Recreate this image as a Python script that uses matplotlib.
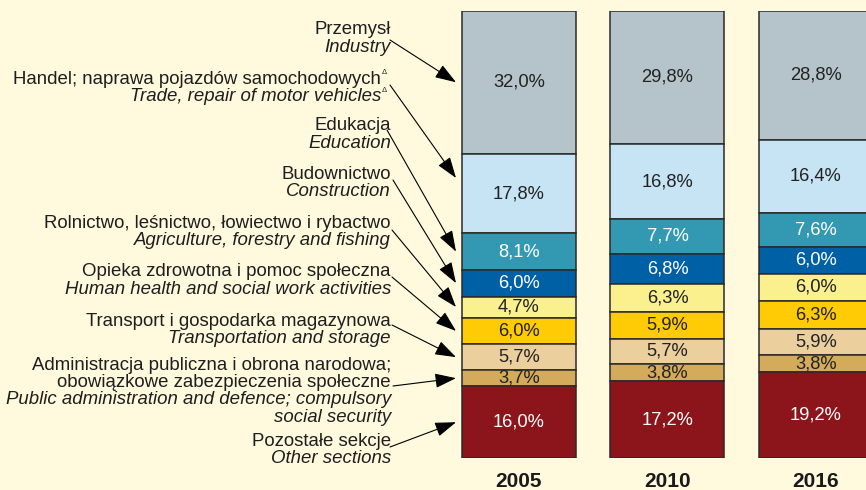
import numpy as np
import matplotlib
matplotlib.use("Agg")
import matplotlib.pyplot as plt

plt.rcParams["font.family"] = ["Liberation Sans", "DejaVu Sans"]

years = ["2005", "2010", "2016"]
sectors_pl = ["Przemysł", "Handel; naprawa pojazdów samochodowych", "Edukacja", "Budownictwo",
              "Rolnictwo, leśnictwo, łowiectwo i rybactwo", "Opieka zdrowotna i pomoc społeczna",
              "Transport i gospodarka magazynowa",
              "Administracja publiczna i obrona narodowa;\nobowiązkowe zabezpieczenia społeczne",
              "Pozostałe sekcje"]
sectors_en = ["Industry", "Trade, repair of motor vehicles", "Education", "Construction",
              "Agriculture, forestry and fishing", "Human health and social work activities",
              "Transportation and storage",
              "Public administration and defence; compulsory\nsocial security",
              "Other sections"]
v2005 = [32.0, 17.8, 8.1, 6.0, 4.7, 6.0, 5.7, 3.7, 16.0]
v2010 = [29.8, 16.8, 7.7, 6.8, 6.3, 5.9, 5.7, 3.8, 17.2]
v2016 = [28.8, 16.4, 7.6, 6.0, 6.0, 6.3, 5.9, 3.8, 19.2]

colors = ["#b5c4cb", "#c6e4f4", "#3399b2", "#0060a6", "#faf08e", "#ffcb05",
          "#ebcf9d", "#d3ab5b", "#8b151a"]
txtcol = ["#222222", "#222222", "white", "white", "#222222", "#222222",
          "#222222", "#222222", "white"]

W, H = 866, 490
bg = "#fffade"
fig = plt.figure(figsize=(W / 100, H / 100), dpi=100, facecolor=bg)
# axes spans bar area vertically (px 10.7 .. 458 from top)
top_px, bot_px = 10.7, 458
ax = fig.add_axes([0, (H - bot_px) / H, 1, (bot_px - top_px) / H])
ax.axis("off")
step = 148.5
x0 = 519
ax.set_xlim(-x0 / step, (W - x0) / step)
ax.set_ylim(0, 100)

width = 114 / step
data = np.array([v2005, v2010, v2016])
for j in range(len(years)):
    tops = 100 - np.concatenate([[0], np.cumsum(data[j])[:-1]])
    for i, v in enumerate(data[j]):
        ax.bar(j, v, bottom=tops[i] - v, width=width, color=colors[i],
               edgecolor="#2a2a2a", linewidth=1.1)
        ax.text(j, tops[i] - v / 2, f"{v:.1f}%".replace(".", ","), ha="center",
                va="center", fontsize=13.2, color=txtcol[i])
    ax.text(j, -5.3, years[j], ha="center", va="center", fontsize=15,
            fontweight="bold", color="#1a1a1a", clip_on=False)

# label blocks (first line centre, px from top) and leader start points
block_y = [30, 79, 126, 174, 223, 272, 321, 365, 441]
lead_start = [(390, 40), (390, 85), (387, 130), (393, 180), (392, 230),
              (392, 277), (392, 325), (393, 386), (390, 447)]
tip_shift = [0, 3.5, 0, 0, 0, 0, 0, 0, 0]  # trade arrow points above centre
tip_x = (456 - x0) / step
tops05 = 100 - np.concatenate([[0], np.cumsum(v2005)[:-1]])
lh = 17.4
for i in range(len(sectors_pl)):
    lines = [(s, "normal") for s in sectors_pl[i].split("\n")] + \
            [(s, "italic") for s in sectors_en[i].split("\n")]
    y = block_y[i]
    for k, (s, st) in enumerate(lines):
        xr = 391
        if i == 1:
            xr = 381
            fig.text(382 / W, 1 - (y + k * lh - 6) / H, "Δ", fontsize=5.5,
                     ha="left", va="center", color="#222222")
        fig.text(xr / W, 1 - (y + k * lh) / H, s, ha="right", va="center",
                 fontsize=13.4, style=st, color="#1e1e1e")
    sx, sy = lead_start[i]
    ax.annotate("", xy=(tip_x, tops05[i] - v2005[i] / 2 + tip_shift[i]), xycoords="data",
                xytext=(sx, H - sy), textcoords="figure pixels",
                arrowprops=dict(arrowstyle="-|>,head_length=1.3,head_width=0.45",
                                color="black", lw=0.8, shrinkA=0, shrinkB=0,
                                mutation_scale=10))

fig.savefig("out.png", dpi=100, facecolor=bg)
